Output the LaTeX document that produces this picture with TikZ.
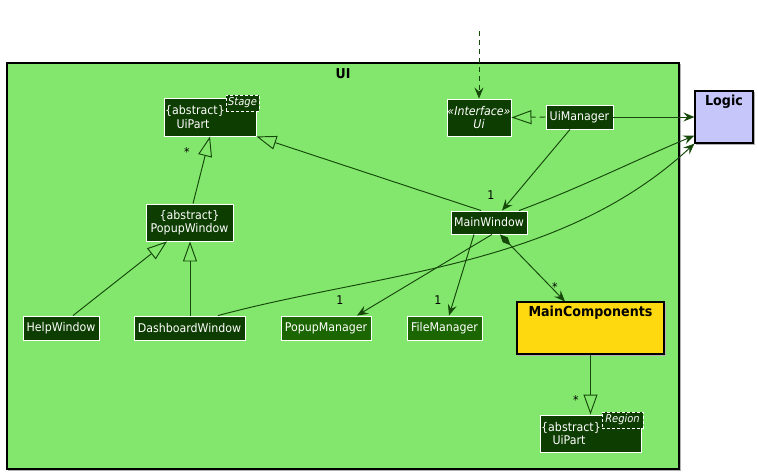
\documentclass[tikz,border=0pt]{standalone}
\usepackage{fontspec}
\setmainfont{DejaVu Sans}[FakeStretch=0.92]
\usetikzlibrary{arrows.meta,calc}
\definecolor{pkg}{RGB}{131,231,109}
\definecolor{cls}{RGB}{13,61,0}
\definecolor{clsb}{RGB}{27,102,0}
\definecolor{ln}{RGB}{22,72,10}
\definecolor{logicc}{RGB}{198,198,250}
\definecolor{gold}{RGB}{255,217,15}
\tikzset{
  cbox/.style={draw=white, line width=0.9pt, fill=cls, inner sep=0pt, text=white, font=\fontsize{12}{13.5}\selectfont},
  tagbox/.style={draw=white, densely dashed, line width=0.7pt, fill=cls, inner sep=1pt, text=white, font=\fontsize{10.8}{12}\selectfont\itshape},
  txt/.style={inner sep=0pt, text=white, font=\fontsize{12}{13.5}\selectfont, align=center},
  lbl/.style={inner sep=0pt, text=black, font=\fontsize{12}{13.5}\selectfont},
  conn/.style={draw=ln, line width=0.95pt},
  arr/.style={conn, -{Stealth[length=11pt,width=9pt,inset=4pt]}},
  inh/.style={conn, -{Triangle[open,length=20pt,width=14pt,fill=pkg]}},
  comp/.style={conn, {Diamond[length=15pt,width=7pt]}-{Stealth[length=11pt,width=9pt,inset=4pt]}},
}
\begin{document}
\begin{tikzpicture}[x=1pt,y=-1pt]
\useasboundingbox (0,0) rectangle (758,474);
\fill[white] (0,0) rectangle (758,474);
% package UI
\draw[gray!60, line width=1.5pt] (8.5,64.5) rectangle (680.5,470);
\draw[black, line width=1.3pt, fill=pkg] (7,63) rectangle (679,469);
\node[font=\fontsize{13.6}{15}\selectfont\bfseries] (uititle) at (343,74) {UI};

% Logic
\draw[gray!60, line width=1.5pt] (696.5,92.5) rectangle (754,144.5);
\node[draw=black, line width=1.2pt, fill=logicc, minimum width=58pt, minimum height=52pt, inner sep=0pt] (logic) at (724,117) {};
\node[font=\fontsize{13.8}{15}\selectfont\bfseries] (logict) at (724,102) {Logic};

% Classes
\node[cbox, minimum width=92pt, minimum height=38pt] (uipart1) at (210,117) {};
\node[txt] (uipart1t) at (195,117) {\{abstract\}\\\hspace*{-4pt}UiPart};
\node[tagbox, minimum width=33pt, minimum height=16pt] (stage) at (242.5,103) {Stage};

\node[cbox, minimum width=87pt, minimum height=37pt] (popupwin) at (189.5,222.5) {};
\node[txt] (popupwint) at (189.5,222.5) {\{abstract\}\\PopupWindow};

\node[cbox, minimum width=64pt, minimum height=37pt] (ui) at (479,117.5) {};
\node[txt, font=\fontsize{12}{13.5}\selectfont\itshape] (uit) at (479,117.5) {«Interface»\\Ui};

\node[cbox, minimum width=67pt, minimum height=24pt] (uimanager) at (579.5,117) {UiManager};
\node[cbox, minimum width=76pt, minimum height=23pt] (mainwindow) at (489,222.5) {MainWindow};
\node[cbox, minimum width=76pt, minimum height=24pt] (helpwindow) at (61,328) {HelpWindow};
\node[cbox, minimum width=111pt, minimum height=24pt] (dashboard) at (189.5,328) {DashboardWindow};
\node[cbox, fill=clsb, minimum width=90pt, minimum height=24pt] (popupmgr) at (326,328) {PopupManager};
\node[cbox, fill=clsb, minimum width=75pt, minimum height=24pt] (filemgr) at (444.5,328) {FileManager};

\draw[gray!60, line width=1.5pt] (518.5,303.5) rectangle (665.5,355.5);
\node[draw=black, line width=1.1pt, fill=gold, minimum width=147pt, minimum height=52pt, inner sep=0pt] (maincomp) at (590.5,328) {};
\node[font=\fontsize{13.8}{15}\selectfont\bfseries] (maincompt) at (590.5,313) {MainComponents};

\node[cbox, minimum width=101pt, minimum height=37pt] (uipart2) at (590.5,433.5) {};
\node[txt] (uipart2t) at (571,433.5) {\{abstract\}\\\hspace*{-4pt}UiPart};
\node[tagbox, minimum width=41pt, minimum height=16pt] (region) at (622.5,420) {Region};

% Connectors
\coordinate (top) at (479,31);
\draw[arr, dash pattern=on 5pt off 4pt] (top) -- (ui.north);
\draw[inh, dash pattern=on 6pt off 4pt] (uimanager.west) -- (ui.east);
\draw[arr] (uimanager.east) -- (logic.west);
\draw[arr] ($(uimanager.south)+(-9.5,0)$) -- ($(mainwindow.north)+(13,0)$);
\node[lbl] (l1) at (491,195) {1};

\draw[inh] ($(mainwindow.north)+(-8,0)$) -- (uipart1.south east);
\draw[inh] ($(popupwin.north)+(3.5,0)$) -- ($(uipart1.south)+(0,0)$);
\node[lbl] (l2) at (187,152) {*};
\draw[inh] ($(helpwindow.north)+(12,0)$) -- ($(popupwin.south)+(-22.5,0)$);
\draw[inh] ($(dashboard.north)+(0.5,0)$) -- ($(popupwin.south)+(0.5,0)$);

\draw[arr] ($(dashboard.north)+(28.5,0)$) .. controls (380,272) and (560,268) .. ($(logic.south west)+(0,0)$);
\draw[arr] ($(mainwindow.north)+(30,0)$) .. controls (580,188) and (640,158) .. ($(logic.south west)+(0,-8)$);

\draw[arr] ($(mainwindow.south)+(3,0)$) -- ($(popupmgr.north)+(31,0)$);
\node[lbl] (l3) at (340,300) {1};
\draw[arr] ($(mainwindow.south)+(-15,0)$) -- ($(filemgr.north)+(4.5,0)$);
\node[lbl] (l4) at (438,300) {1};
\draw[comp] ($(mainwindow.south)+(11,0)$) -- ($(maincomp.north)+(-25.5,0)$);
\node[lbl] (l5) at (555,287) {*};
\draw[inh] (maincomp.south) -- (uipart2.north);
\node[lbl] (l6) at (576,400) {*};
\end{tikzpicture}
\end{document}
